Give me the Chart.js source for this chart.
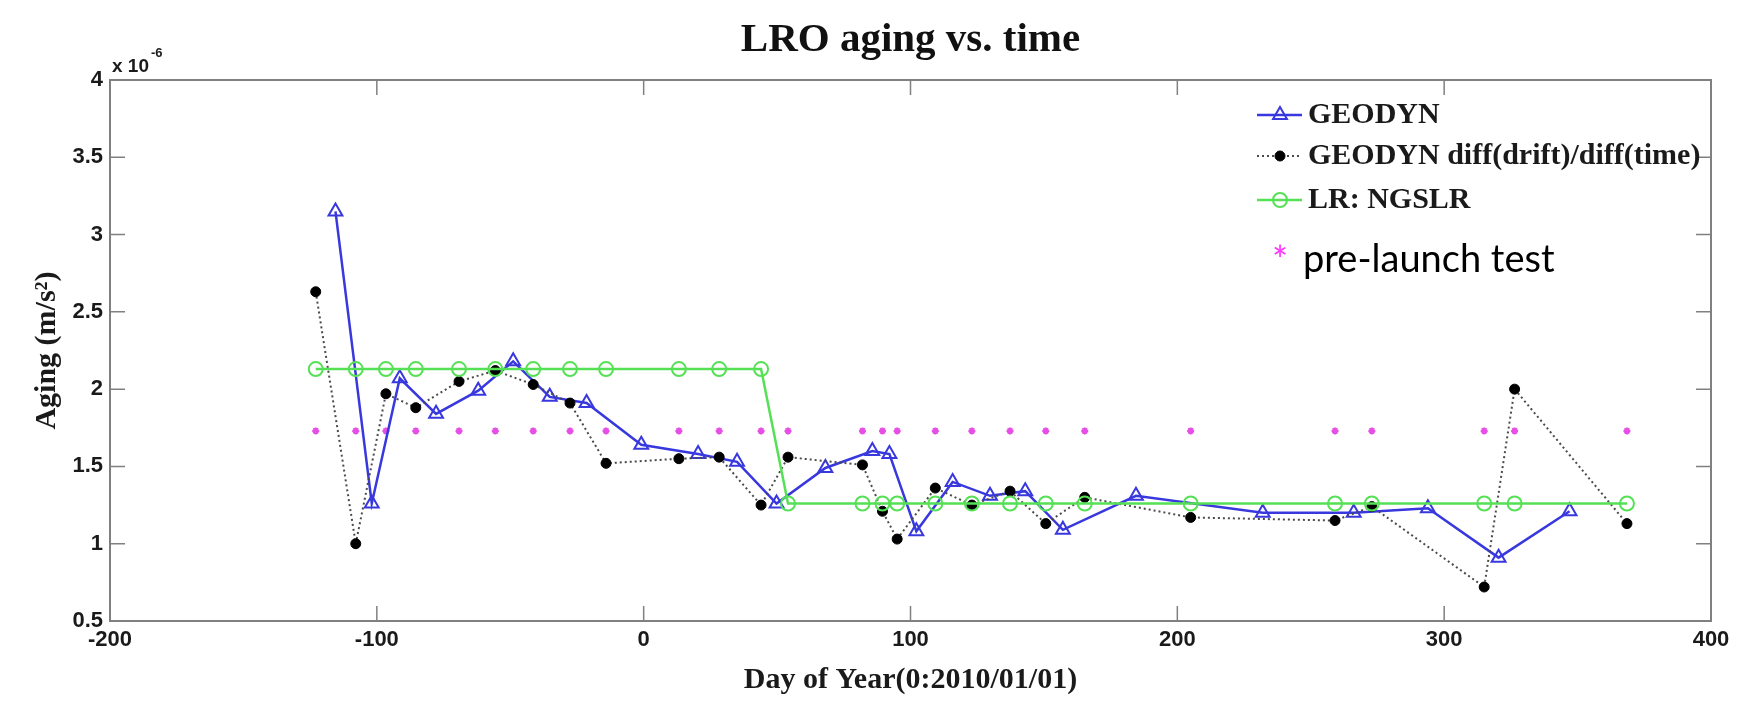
<!DOCTYPE html>
<html>
<head>
<meta charset="utf-8">
<title>LRO aging vs. time</title>
<script src="https://cdn.jsdelivr.net/npm/chart.js@4.4.1/dist/chart.umd.min.js"></script>
<style>
  html, body { margin: 0; padding: 0; background: #ffffff; }
  #wrap { width: 1751px; height: 715px; position: relative; }
</style>
</head>
<body>
<div id="wrap"><canvas id="chart" width="1751" height="715"></canvas></div>
<script>
// GEODYN orbit-solution epochs (day of year, 0 = 2010/01/01) and aging estimates (x 1e-6 m/s^2)
const geodynDays = [-115.5, -101.9, -91.4, -77.8, -62.0, -48.9, -35.2, -21.4, -0.9, 20.4, 35.0, 49.8, 68.1,
  85.7, 92.1, 102.2, 115.8, 129.8, 143.0, 157.1, 184.5, 232.0, 266.1, 293.9, 320.4, 347.0];
const geodynAging = [3.15, 1.26, 2.07, 1.84, 1.99, 2.18, 1.95, 1.91, 1.64, 1.58, 1.53, 1.26, 1.49,
  1.60, 1.58, 1.08, 1.40, 1.31, 1.34, 1.09, 1.31, 1.20, 1.20, 1.23, 0.91, 1.21];

// Laser-ranging (NGSLR) epochs shared by the drift-rate, NGSLR and pre-launch series
const rangingDays = [-122.9, -107.9, -96.6, -85.4, -69.2, -55.6, -41.4, -27.6, -14.1, 13.2, 28.3, 44.0, 54.1,
  82.0, 89.5, 95.0, 109.3, 123.0, 137.3, 150.7, 165.3, 205.0, 259.1, 272.9, 315.0, 326.4, 368.5];
const driftRateAging = [2.63, 1.00, 1.97, 1.88, 2.05, 2.12, 2.03, 1.91, 1.52, 1.55, 1.56, 1.25, 1.56,
  1.51, 1.21, 1.03, 1.36, 1.25, 1.34, 1.13, 1.30, 1.17, 1.15, 1.24, 0.72, 2.00, 1.13];
const ngslrAging = [2.13, 2.13, 2.13, 2.13, 2.13, 2.13, 2.13, 2.13, 2.13, 2.13, 2.13, 2.13, 1.26,
  1.26, 1.26, 1.26, 1.26, 1.26, 1.26, 1.26, 1.26, 1.26, 1.26, 1.26, 1.26, 1.26, 1.26];
const preLaunchAging = [1.73, 1.73, 1.73, 1.73, 1.73, 1.73, 1.73, 1.73, 1.73, 1.73, 1.73, 1.73, 1.73,
  1.73, 1.73, 1.73, 1.73, 1.73, 1.73, 1.73, 1.73, 1.73, 1.73, 1.73, 1.73, 1.73, 1.73];

// Axis ticks
const xTicks = [-200, -100, 0, 100, 200, 300, 400];
const yTicks = [0.5, 1, 1.5, 2, 2.5, 3, 3.5, 4];

const pairUp = (xs, ys) => xs.map((v, i) => ({ x: v, y: ys[i] }));

const BLUE = '#3838de';
const GREEN = '#55e055';
const INK = '#1a1a1a';

// Box frame with inward ticks on all four sides, the exponent label,
// the in-plot legend and the pre-launch note.
const axesFrame = {
  id: 'axesFrame',
  afterDraw(chart) {
    const { ctx, chartArea: a, scales: { x, y } } = chart;
    ctx.save();

    ctx.strokeStyle = '#808080';
    ctx.lineWidth = 2;
    ctx.strokeRect(a.left, a.top, a.right - a.left, a.bottom - a.top);

    const tl = 15;
    ctx.beginPath();
    x.ticks.forEach(t => {
      const px = x.getPixelForValue(t.value);
      if (px <= a.left + 1 || px >= a.right - 1) return;
      ctx.moveTo(px, a.bottom); ctx.lineTo(px, a.bottom - tl);
      ctx.moveTo(px, a.top); ctx.lineTo(px, a.top + tl);
    });
    y.ticks.forEach(t => {
      const py = y.getPixelForValue(t.value);
      if (py <= a.top + 1 || py >= a.bottom - 1) return;
      ctx.moveTo(a.left, py); ctx.lineTo(a.left + tl, py);
      ctx.moveTo(a.right, py); ctx.lineTo(a.right - tl, py);
    });
    ctx.lineWidth = 1.5;
    ctx.stroke();

    // exponent of the y axis
    ctx.fillStyle = INK;
    ctx.textBaseline = 'alphabetic';
    ctx.textAlign = 'left';
    ctx.font = 'bold 19px "Liberation Sans"';
    const base = 'x 10';
    ctx.fillText(base, a.left + 2, a.top - 8);
    const bw = ctx.measureText(base).width;
    ctx.font = 'bold 13px "Liberation Sans"';
    ctx.fillText('-6', a.left + 4 + bw, a.top - 23);

    // legend
    const rows = [115, 156, 200];
    const lx0 = 1257, lx1 = 1302, lmid = 1280, tx = 1308;
    chart.data.datasets.slice(0, 3).forEach((ds, i) => {
      const yy = rows[i];
      ctx.save();
      ctx.strokeStyle = ds.borderColor;
      ctx.lineWidth = ds.borderWidth;
      ctx.setLineDash(ds.borderDash || []);
      ctx.beginPath(); ctx.moveTo(lx0, yy); ctx.lineTo(lx1, yy); ctx.stroke();
      ctx.setLineDash([]);
      ctx.strokeStyle = ds.pointBorderColor;
      ctx.fillStyle = ds.pointBackgroundColor;
      ctx.lineWidth = ds.pointBorderWidth;
      Chart.helpers.drawPoint(ctx, {
        pointStyle: ds.pointStyle, radius: ds.pointRadius,
        borderWidth: ds.pointBorderWidth, rotation: 0
      }, lmid, yy);
      ctx.restore();
      ctx.fillStyle = INK;
      ctx.font = 'bold 30px "Liberation Serif"';
      ctx.textBaseline = 'middle';
      ctx.textAlign = 'left';
      ctx.fillText(ds.label, tx, yy);
    });

    // pre-launch note
    ctx.textBaseline = 'alphabetic';
    ctx.font = '38px Lato';
    ctx.fillStyle = '#ff33ff';
    ctx.fillText('*', 1272, 274);
    ctx.fillStyle = '#000000';
    ctx.fillText('pre-launch test', 1303, 272);

    ctx.restore();
  }
};

new Chart(document.getElementById('chart'), {
  type: 'scatter',
  data: {
    datasets: [
      {
        label: 'GEODYN',
        data: pairUp(geodynDays, geodynAging),
        showLine: true,
        borderColor: BLUE,
        borderWidth: 2.5,
        pointStyle: 'triangle',
        pointRadius: 8,
        pointBorderWidth: 2,
        pointBorderColor: BLUE,
        pointBackgroundColor: 'rgba(0,0,0,0)',
        order: 3
      },
      {
        label: 'GEODYN diff(drift)/diff(time)',
        data: pairUp(rangingDays, driftRateAging),
        showLine: true,
        borderColor: '#4a4a4a',
        borderWidth: 2,
        borderDash: [2, 3],
        pointStyle: 'circle',
        pointRadius: 5,
        pointBorderWidth: 1,
        pointBorderColor: '#000000',
        pointBackgroundColor: '#000000',
        order: 2
      },
      {
        label: 'LR: NGSLR',
        data: pairUp(rangingDays, ngslrAging),
        showLine: true,
        borderColor: GREEN,
        borderWidth: 2.5,
        pointStyle: 'circle',
        pointRadius: 7,
        pointBorderWidth: 2,
        pointBorderColor: GREEN,
        pointBackgroundColor: 'rgba(0,0,0,0)',
        order: 1
      },
      {
        label: 'pre-launch test',
        data: pairUp(rangingDays, preLaunchAging),
        showLine: false,
        pointStyle: 'star',
        pointRadius: 3.5,
        pointBorderWidth: 2,
        pointBorderColor: '#e64ee6',
        pointBackgroundColor: '#e64ee6',
        order: 4
      }
    ]
  },
  options: {
    responsive: false,
    animation: false,
    devicePixelRatio: 1,
    layout: { padding: { left: 0, right: 40, top: 0, bottom: 0 } },
    plugins: {
      legend: { display: false },
      tooltip: { enabled: false },
      title: {
        display: true,
        text: 'LRO aging vs. time',
        fullSize: false,
        color: '#111111',
        font: { family: 'Liberation Serif', size: 41, weight: 'bold' },
        padding: { top: 16, bottom: 14.8 }
      }
    },
    scales: {
      x: {
        type: 'linear',
        min: -200,
        max: 400,
        afterBuildTicks: s => { s.ticks = xTicks.map(v => ({ value: v })); },
        grid: { display: false, drawTicks: false },
        border: { display: false },
        ticks: {
          color: INK,
          padding: 6,
          maxRotation: 0,
          autoSkip: false,
          font: { family: 'Liberation Sans', size: 22, weight: 'bold' },
          callback: v => String(v)
        },
        title: {
          display: true,
          text: 'Day of Year(0:2010/01/01)',
          color: INK,
          font: { family: 'Liberation Serif', size: 30, weight: 'bold' },
          padding: { top: 0, bottom: 17 }
        },
        afterFit: s => { s.height = 94; s.paddingLeft = 0; s.paddingRight = 0; }
      },
      y: {
        type: 'linear',
        min: 0.5,
        max: 4,
        afterBuildTicks: s => { s.ticks = yTicks.map(v => ({ value: v })); },
        grid: { display: false, drawTicks: false },
        border: { display: false },
        ticks: {
          color: INK,
          padding: 7,
          autoSkip: false,
          font: { family: 'Liberation Sans', size: 22, weight: 'bold' },
          callback: v => String(v)
        },
        title: {
          display: true,
          text: 'Aging (m/s²)',
          color: INK,
          font: { family: 'Liberation Serif', size: 30, weight: 'bold' },
          padding: { top: 29, bottom: 0 }
        },
        afterFit: s => { s.width = 110; s.paddingTop = 0; s.paddingBottom = 0; }
      }
    }
  },
  plugins: [axesFrame]
});
</script>
</body>
</html>
